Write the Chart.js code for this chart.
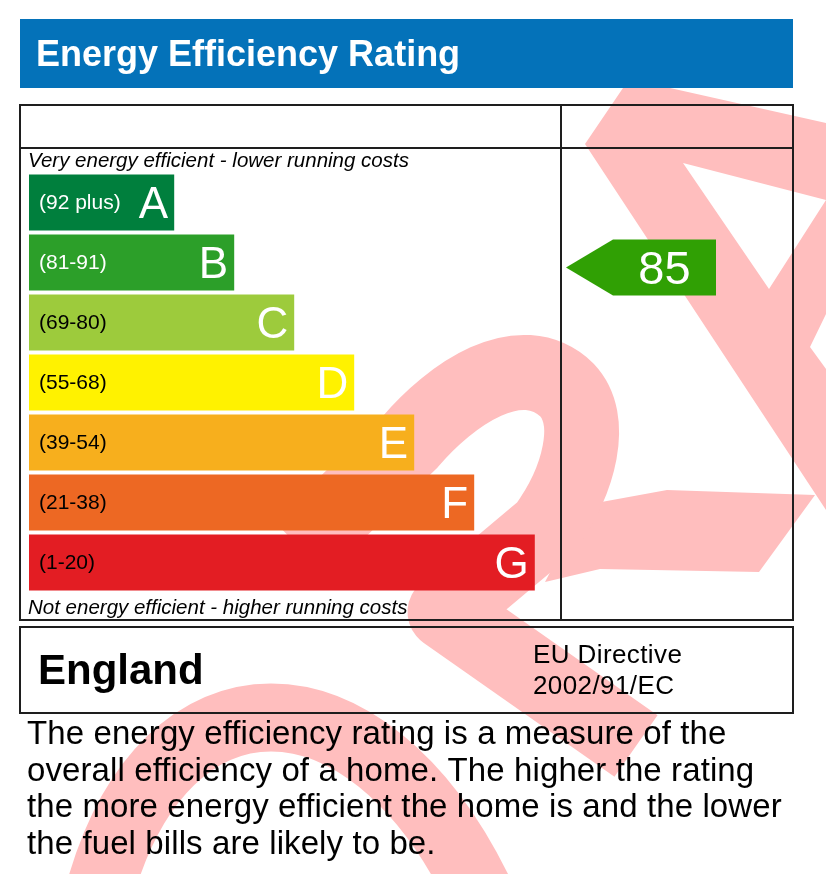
<!DOCTYPE html>
<html>
<head>
<meta charset="utf-8">
<title>Energy Efficiency Rating</title>
<script src="https://cdn.jsdelivr.net/npm/chart.js@4.4.1/dist/chart.umd.min.js"></script>
<style>
  html, body { margin: 0; padding: 0; background: #fff; }
  #wrap { width: 826px; height: 874px; }
</style>
</head>
<body>
<div id="wrap"><canvas id="epc" width="826" height="874"></canvas></div>
<script>
// band data
const bandLetters = ['A', 'B', 'C', 'D', 'E', 'F', 'G'];
const bandRanges = ['(92 plus)', '(81-91)', '(69-80)', '(55-68)', '(39-54)', '(21-38)', '(1-20)'];
const bandLengths = [24.2, 34.2, 44.2, 54.2, 64.2, 74.2, 84.3];
const bandColors = ['#007f3d', '#2c9f29', '#9dcb3c', '#fff200', '#f7af1d', '#ed6823', '#e31d23'];
const rangeTextColors = ['#ffffff', '#ffffff', '#000000', '#000000', '#000000', '#000000', '#000000'];
const currentRating = 85;
const currentBand = 'B';

const FONT = "'Liberation Sans', Arial, Helvetica, sans-serif";
const PINK = 'rgb(255, 190, 190)';

function poly(ctx, pts) {
  ctx.moveTo(pts[0][0], pts[0][1]);
  for (let i = 1; i < pts.length; i++) ctx.lineTo(pts[i][0], pts[i][1]);
  ctx.closePath();
}

// the faded logo behind the label
function drawWatermark(ctx) {
  ctx.save();
  ctx.fillStyle = PINK;
  ctx.strokeStyle = PINK;

  // upper right shape with its triangular hole
  ctx.beginPath();
  poly(ctx, [[623, 88], [670, 88], [826, 123], [826, 314], [810, 347], [826, 369], [826, 510], [585, 144]]);
  poly(ctx, [[683, 163], [826, 200], [769, 289]]);
  ctx.fill('evenodd');

  // band to the right at the foot of the "2"
  ctx.beginPath();
  poly(ctx, [[585, 505], [667, 490], [815, 495], [759, 572], [600, 569], [545, 582]]);
  ctx.fill();

  // the "2"
  ctx.lineWidth = 75;
  ctx.lineJoin = 'round';
  ctx.lineCap = 'butt';
  ctx.beginPath();
  ctx.moveTo(300, 548);
  ctx.lineTo(410, 442);
  ctx.bezierCurveTo(450, 395, 520, 345, 567, 390);
  ctx.bezierCurveTo(595, 420, 580, 480, 545, 528);
  ctx.lineTo(445, 612);
  ctx.lineTo(636, 746);
  ctx.stroke();

  // lower arch
  ctx.lineWidth = 68;
  ctx.beginPath();
  ctx.moveTo(100, 890);
  ctx.bezierCurveTo(165, 660, 365, 660, 478, 890);
  ctx.stroke();
  ctx.restore();
}

function text(ctx, str, x, y, font, color, align, spacing) {
  ctx.font = font;
  ctx.fillStyle = color;
  ctx.textAlign = align || 'left';
  ctx.textBaseline = 'alphabetic';
  ctx.letterSpacing = spacing || '0px';
  ctx.fillText(str, x, y);
}

const epcPlugin = {
  id: 'epcFrame',
  beforeDraw(chart) {
    const ctx = chart.ctx;
    ctx.save();
    ctx.fillStyle = '#ffffff';
    ctx.fillRect(0, 0, chart.width, chart.height);
    drawWatermark(ctx);

    // title bar
    ctx.fillStyle = '#0472b9';
    ctx.fillRect(20, 19, 773, 69);
    text(ctx, 'Energy Efficiency Rating', 36, 66, 'bold 36px ' + FONT, '#ffffff');

    // table frame
    ctx.strokeStyle = '#1e1e1e';
    ctx.lineWidth = 2;
    ctx.strokeRect(20, 105, 773, 515);
    ctx.beginPath();
    ctx.moveTo(20, 148); ctx.lineTo(793, 148);
    ctx.moveTo(561, 105); ctx.lineTo(561, 620);
    ctx.stroke();

    text(ctx, 'Very energy efficient - lower running costs', 28, 167, 'italic 20.5px ' + FONT, '#000000');
    text(ctx, 'Not energy efficient - higher running costs', 28, 614, 'italic 20.5px ' + FONT, '#000000');

    // country box
    ctx.strokeRect(20, 627, 773, 86);
    text(ctx, 'England', 38, 684, 'bold 42px ' + FONT, '#000000');
    text(ctx, 'EU Directive', 533, 663, '26px ' + FONT, '#000000', 'left', '0.4px');
    text(ctx, '2002/91/EC', 533, 694, '26px ' + FONT, '#000000', 'left', '0.4px');

    const para = [
      'The energy efficiency rating is a measure of the',
      'overall efficiency of a home. The higher the rating',
      'the more energy efficient the home is and the lower',
      'the fuel bills are likely to be.'
    ];
    para.forEach((line, i) => {
      text(ctx, line, 27, 744 + i * 36.6, '33px ' + FONT, '#000000', 'left', '0.1px');
    });
    ctx.restore();
  },
  afterDatasetsDraw(chart) {
    const ctx = chart.ctx;
    const meta = chart.getDatasetMeta(0);
    ctx.save();
    meta.data.forEach((bar, i) => {
      text(ctx, bandRanges[i], 39, bar.y + 6, '21px ' + FONT, rangeTextColors[i]);
      text(ctx, bandLetters[i], bar.x - 6, bar.y + 15.5, '44px ' + FONT, '#ffffff', 'right');
    });

    // current rating arrow
    const yScale = chart.scales.y;
    const cy = yScale.getPixelForValue(bandLetters.indexOf(currentBand)) + 5;
    const h = meta.data[0].height;
    ctx.fillStyle = '#30a004';
    ctx.beginPath();
    poly(ctx, [[566, cy], [613, cy - h / 2], [716, cy - h / 2], [716, cy + h / 2], [613, cy + h / 2]]);
    ctx.fill();
    text(ctx, String(currentRating), 664.5, cy + 16, '47px ' + FONT, '#ffffff', 'center');
    ctx.restore();
  }
};

const ctx = document.getElementById('epc').getContext('2d');
new Chart(ctx, {
  type: 'bar',
  data: {
    labels: bandLetters,
    datasets: [{
      data: bandLengths,
      backgroundColor: bandColors,
      borderWidth: 0,
      barPercentage: 0.93,
      categoryPercentage: 1
    }]
  },
  options: {
    indexAxis: 'y',
    responsive: false,
    animation: false,
    events: [],
    layout: { padding: { left: 29, right: 266, top: 172.5, bottom: 281.5 } },
    scales: {
      x: { display: false, min: 0, max: 88.5 },
      y: { display: false }
    },
    plugins: {
      legend: { display: false },
      tooltip: { enabled: false }
    }
  },
  plugins: [epcPlugin]
});
</script>
</body>
</html>
